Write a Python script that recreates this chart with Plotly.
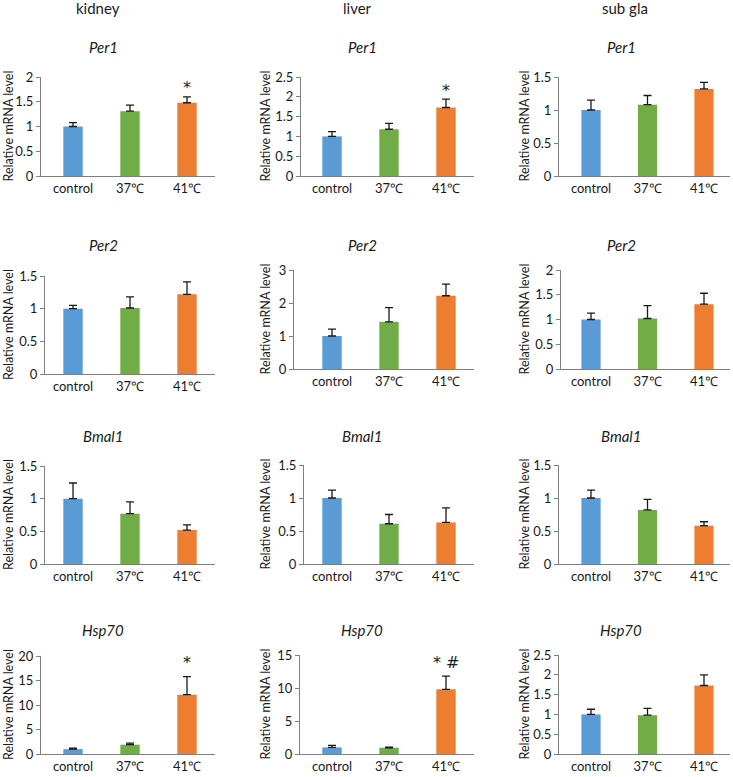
import plotly.graph_objects as go

# ---------------- data ----------------
categories = ["control", "37℃", "41℃"]
tissues = ["kidney", "liver", "sub gla"]
genes = ["Per1", "Per2", "Bmal1", "Hsp70"]

kidney_per1 = [1.00, 1.31, 1.48]
kidney_per1_err = [0.08, 0.12, 0.12]
kidney_per2 = [1.00, 1.01, 1.22]
kidney_per2_err = [0.05, 0.17, 0.19]
kidney_bmal1 = [1.00, 0.77, 0.52]
kidney_bmal1_err = [0.24, 0.18, 0.08]
kidney_hsp70 = [1.0, 1.9, 12.1]
kidney_hsp70_err = [0.2, 0.3, 3.7]

liver_per1 = [1.00, 1.18, 1.73]
liver_per1_err = [0.12, 0.15, 0.21]
liver_per2 = [1.00, 1.43, 2.22]
liver_per2_err = [0.21, 0.43, 0.35]
liver_bmal1 = [1.00, 0.61, 0.63]
liver_bmal1_err = [0.12, 0.14, 0.22]
liver_hsp70 = [1.0, 0.95, 9.8]
liver_hsp70_err = [0.3, 0.1, 2.0]

sub_per1 = [1.00, 1.08, 1.32]
sub_per1_err = [0.15, 0.14, 0.10]
sub_per2 = [1.00, 1.02, 1.31]
sub_per2_err = [0.13, 0.26, 0.22]
sub_bmal1 = [1.00, 0.82, 0.58]
sub_bmal1_err = [0.12, 0.16, 0.06]
sub_hsp70 = [1.00, 0.98, 1.73]
sub_hsp70_err = [0.13, 0.17, 0.27]

values = {
    "kidney": [kidney_per1, kidney_per2, kidney_bmal1, kidney_hsp70],
    "liver": [liver_per1, liver_per2, liver_bmal1, liver_hsp70],
    "sub gla": [sub_per1, sub_per2, sub_bmal1, sub_hsp70],
}
errors = {
    "kidney": [kidney_per1_err, kidney_per2_err, kidney_bmal1_err, kidney_hsp70_err],
    "liver": [liver_per1_err, liver_per2_err, liver_bmal1_err, liver_hsp70_err],
    "sub gla": [sub_per1_err, sub_per2_err, sub_bmal1_err, sub_hsp70_err],
}
y_max = {"kidney": [2, 1.5, 1.5, 20], "liver": [2.5, 3, 1.5, 15], "sub gla": [1.5, 2, 1.5, 2.5]}
y_step = {"kidney": [0.5, 0.5, 0.5, 5], "liver": [0.5, 1, 0.5, 5], "sub gla": [0.5, 0.5, 0.5, 0.5]}

# significance marks: (tissue, gene index, category index, label, y value)
marks = [
    ("kidney", 0, 2, "*", 1.78),
    ("liver", 0, 2, "*", 2.15),
    ("kidney", 3, 2, "*", 18.6),
    ("liver", 3, 2, "* #", 13.9),
]

bar_colors = ["#5B9BD5", "#70AD47", "#ED7D31"]

# ---------------- layout geometry (pixels) ----------------
W, H = 733, 777
centre0 = {"kidney": 73, "liver": 332, "sub gla": 591}
spacing = {"kidney": 57, "liver": 57, "sub gla": 56.5}
axis_left = {"kidney": [41, 45, 45, 41], "liver": [301, 294, 304, 300], "sub gla": [559, 561, 559, 559]}
axis_right = {"kidney": 215, "liver": 474, "sub gla": 730}
zero_px = {"kidney": [176, 374, 564, 754], "liver": [176, 369, 564, 754], "sub gla": [176, 369, 564, 754]}
top_px = {"kidney": [77, 276, 466, 656], "liver": [77, 270, 465, 655], "sub gla": [77, 270, 465, 655]}
ytitle_px = {"kidney": 8, "liver": 265, "sub gla": 524}
col_title_px = {"kidney": 98, "liver": 357, "sub gla": 625}
gene_title_x = {"kidney": 103, "liver": 362, "sub gla": 621}
gene_title_y = [47, 245, 436, 630]

FONT = "Lato, 'Open Sans', sans-serif"
MARK_FONT = "'DejaVu Sans', sans-serif"
AXIS_COLOR = "#7f7f7f"
TXT = "#1a1a1a"

fig = go.Figure()
layout = dict(
    width=W, height=H, margin=dict(l=0, r=0, t=0, b=0, pad=0, autoexpand=False),
    paper_bgcolor="white", plot_bgcolor="white", showlegend=False,
    font=dict(family=FONT, color=TXT, size=13),
)
annotations = []

k = 0
for t in tissues:
    for g in range(4):
        k += 1
        xa = "x" if k == 1 else f"x{k}"
        ya = "y" if k == 1 else f"y{k}"
        xkey = "xaxis" if k == 1 else f"xaxis{k}"
        ykey = "yaxis" if k == 1 else f"yaxis{k}"
        fig.add_trace(go.Bar(
            x=[0, 1, 2], y=values[t][g], marker_color=bar_colors, marker_line_width=0,
            width=0.34, xaxis=xa, yaxis=ya,
            error_y=dict(type="data", symmetric=False, array=errors[t][g],
                         arrayminus=[0, 0, 0], color=TXT, thickness=1.3, width=4),
        ))
        L, R = axis_left[t][g], axis_right[t]
        c0, sp = centre0[t], spacing[t]
        layout[xkey] = dict(
            domain=[L / W, R / W], range=[(L - c0) / sp, (R - c0) / sp],
            tickmode="array", tickvals=[0, 1, 2], ticktext=categories,
            showline=True, linecolor=AXIS_COLOR, linewidth=1, ticks="",
            showgrid=False, zeroline=False, anchor=ya, fixedrange=True,
            tickfont=dict(size=13, family=FONT, color=TXT),
        )
        z, tp = zero_px[t][g], top_px[t][g]
        layout[ykey] = dict(
            domain=[1 - z / H, 1 - tp / H], range=[0, y_max[t][g]],
            dtick=y_step[t][g], tick0=0, showline=True, linecolor=AXIS_COLOR, linewidth=1,
            ticks="outside", ticklen=4, tickcolor=AXIS_COLOR, showgrid=False, zeroline=False,
            anchor=xa, fixedrange=True,
            tickfont=dict(size=13, family=FONT, color=TXT),
        )
        annotations.append(dict(
            text="Relative mRNA level", textangle=-90, xref="paper", yref="paper",
            x=ytitle_px[t] / W, y=1 - (z + tp) / 2 / H, xanchor="center", yanchor="middle",
            showarrow=False, font=dict(size=12.5, family=FONT, color=TXT),
        ))
        annotations.append(dict(
            text=f"<i>{genes[g]}</i>", xref="paper", yref="paper",
            x=gene_title_x[t] / W, y=1 - gene_title_y[g] / H, xanchor="center", yanchor="middle",
            showarrow=False, font=dict(size=15, family=FONT, color=TXT),
        ))
        for (mt, mg, mc, lab, yv) in marks:
            if mt == t and mg == g:
                annotations.append(dict(
                    text=lab, xref=xa, yref=ya, x=mc, y=yv, xanchor="center", yanchor="middle",
                    showarrow=False, font=dict(size=16, family=MARK_FONT, color=TXT),
                ))

for t in tissues:
    annotations.append(dict(
        text=t, xref="paper", yref="paper", x=col_title_px[t] / W, y=1 - 8 / H,
        xanchor="center", yanchor="middle", showarrow=False,
        font=dict(size=15, family=FONT, color=TXT),
    ))

layout["annotations"] = annotations
fig.update_layout(**layout)

post = """
document.documentElement.style.margin='0';
document.body.style.margin='0';
document.documentElement.style.overflow='hidden';
"""
fig.write_html("out.html", config={"displayModeBar": False}, post_script=post)
